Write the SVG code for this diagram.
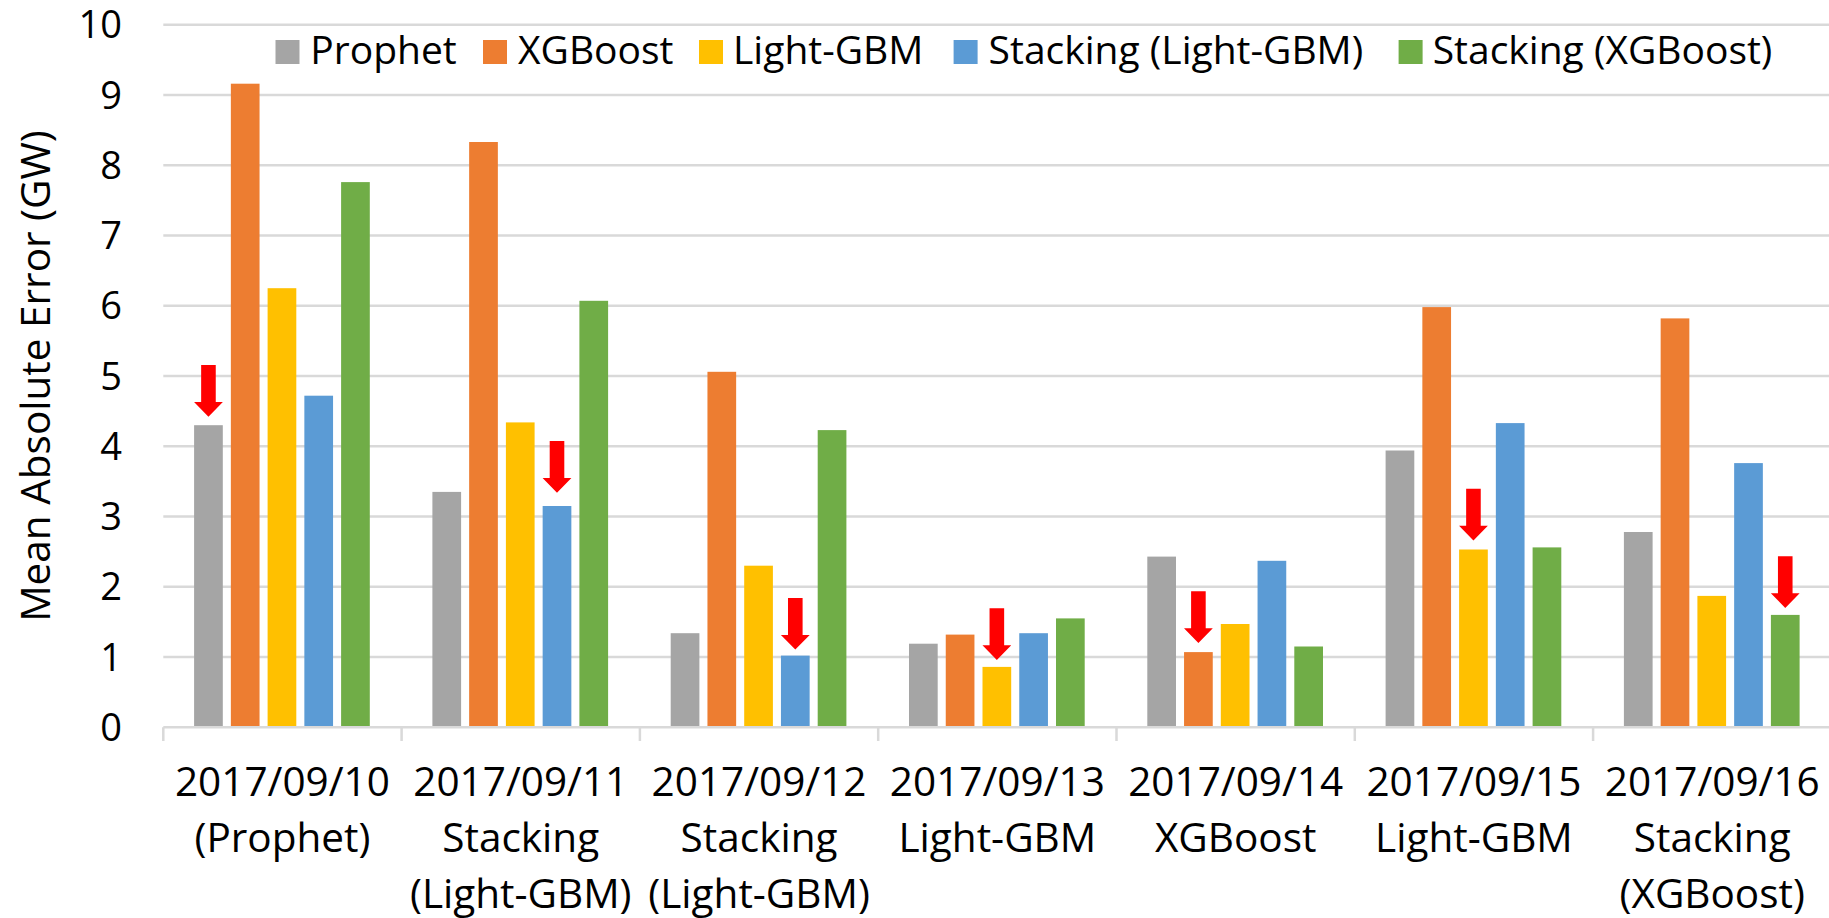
<svg xmlns="http://www.w3.org/2000/svg" xmlns:xlink="http://www.w3.org/1999/xlink" width="1829" height="918" viewBox="0 0 1829 918">
<style>
  text { font-family: "Open Sans", "Liberation Sans", sans-serif; fill: #000; }
  .grid { stroke: #d9d9d9; stroke-width: 2.5; fill: none; }
  .ytick { font-size: 38px; text-anchor: end; }
  .cat { font-size: 40.5px; text-anchor: middle; }
  .leg { font-size: 39px; }
  .title { font-size: 40.5px; text-anchor: middle; }
  .s0 { fill: #a5a5a5; }
  .s1 { fill: #ed7d31; }
  .s2 { fill: #ffc000; }
  .s3 { fill: #5b9bd5; }
  .s4 { fill: #70ad47; }
  .arrow { fill: #ff0000; }
</style>
<defs>
  <path id="arr" d="M-7.3,-51.7 H7.3 V-14.7 H14.4 L0,0 L-14.4,-14.7 H-7.3 Z"/>
</defs>
<rect x="0" y="0" width="1829" height="918" fill="#ffffff"/>

<g id="gridlines">
  <path class="grid" d="M163.3,24.7 H1829 M163.3,94.96 H1829 M163.3,165.2 H1829 M163.3,235.5 H1829 M163.3,305.7 H1829 M163.3,376 H1829 M163.3,446.3 H1829 M163.3,516.5 H1829 M163.3,586.8 H1829 M163.3,657 H1829"/>
</g>

<g id="y-axis">
  <text class="ytick" x="122" y="740.8">0</text>
  <text class="ytick" x="122" y="670.5">1</text>
  <text class="ytick" x="122" y="600.3">2</text>
  <text class="ytick" x="122" y="530">3</text>
  <text class="ytick" x="122" y="459.8">4</text>
  <text class="ytick" x="122" y="389.5">5</text>
  <text class="ytick" x="122" y="319.2">6</text>
  <text class="ytick" x="122" y="249">7</text>
  <text class="ytick" x="122" y="178.7">8</text>
  <text class="ytick" x="122" y="108.5">9</text>
  <text class="ytick" x="122" y="38.2">10</text>
  <text class="title" transform="translate(50,376) rotate(-90)">Mean Absolute Error (GW)</text>
</g>

<g id="bars">
  <g id="cat-0910">
    <rect class="s0" x="194.1" y="425.2" width="28.7" height="302.1"/>
    <rect class="s1" x="230.85" y="83.7" width="28.7" height="643.6"/>
    <rect class="s2" x="267.6" y="288.2" width="28.7" height="439.1"/>
    <rect class="s3" x="304.35" y="395.7" width="28.7" height="331.6"/>
    <rect class="s4" x="341.1" y="182.1" width="28.7" height="545.2"/>
  </g>
  <g id="cat-0911">
    <rect class="s0" x="432.4" y="491.9" width="28.7" height="235.4"/>
    <rect class="s1" x="469.15" y="142" width="28.7" height="585.3"/>
    <rect class="s2" x="505.9" y="422.4" width="28.7" height="304.9"/>
    <rect class="s3" x="542.65" y="506" width="28.7" height="221.3"/>
    <rect class="s4" x="579.4" y="300.8" width="28.7" height="426.5"/>
  </g>
  <g id="cat-0912">
    <rect class="s0" x="670.7" y="633.2" width="28.7" height="94.1"/>
    <rect class="s1" x="707.45" y="371.8" width="28.7" height="355.5"/>
    <rect class="s2" x="744.2" y="565.7" width="28.7" height="161.6"/>
    <rect class="s3" x="780.95" y="655.6" width="28.7" height="71.7"/>
    <rect class="s4" x="817.7" y="430.1" width="28.7" height="297.2"/>
  </g>
  <g id="cat-0913">
    <rect class="s0" x="909" y="643.7" width="28.7" height="83.6"/>
    <rect class="s1" x="945.75" y="634.6" width="28.7" height="92.7"/>
    <rect class="s2" x="982.5" y="666.9" width="28.7" height="60.4"/>
    <rect class="s3" x="1019.25" y="633.2" width="28.7" height="94.1"/>
    <rect class="s4" x="1056" y="618.4" width="28.7" height="108.9"/>
  </g>
  <g id="cat-0914">
    <rect class="s0" x="1147.3" y="556.6" width="28.7" height="170.7"/>
    <rect class="s1" x="1184.05" y="652.1" width="28.7" height="75.2"/>
    <rect class="s2" x="1220.8" y="624" width="28.7" height="103.3"/>
    <rect class="s3" x="1257.55" y="560.8" width="28.7" height="166.5"/>
    <rect class="s4" x="1294.3" y="646.5" width="28.7" height="80.8"/>
  </g>
  <g id="cat-0915">
    <rect class="s0" x="1385.6" y="450.5" width="28.7" height="276.8"/>
    <rect class="s1" x="1422.35" y="307.1" width="28.7" height="420.2"/>
    <rect class="s2" x="1459.1" y="549.5" width="28.7" height="177.8"/>
    <rect class="s3" x="1495.85" y="423.1" width="28.7" height="304.2"/>
    <rect class="s4" x="1532.6" y="547.4" width="28.7" height="179.9"/>
  </g>
  <g id="cat-0916">
    <rect class="s0" x="1623.9" y="532" width="28.7" height="195.3"/>
    <rect class="s1" x="1660.65" y="318.4" width="28.7" height="408.9"/>
    <rect class="s2" x="1697.4" y="595.9" width="28.7" height="131.4"/>
    <rect class="s3" x="1734.15" y="463.1" width="28.7" height="264.2"/>
    <rect class="s4" x="1770.9" y="614.9" width="28.7" height="112.4"/>
  </g>
</g>

<g id="x-axis">
  <path class="grid" d="M163.3,727.3 H1829 M163.3,727.3 V741 M401.6,727.3 V741 M639.9,727.3 V741 M878.2,727.3 V741 M1116.5,727.3 V741 M1354.8,727.3 V741 M1593.1,727.3 V741"/>
  <g id="label-0910">
    <text class="cat" x="282.45" y="796">2017/09/10</text>
    <text class="cat" x="282.45" y="852">(Prophet)</text>
  </g>
  <g id="label-0911">
    <text class="cat" x="520.75" y="796">2017/09/11</text>
    <text class="cat" x="520.75" y="852">Stacking</text>
    <text class="cat" x="520.75" y="908">(Light-GBM)</text>
  </g>
  <g id="label-0912">
    <text class="cat" x="759.05" y="796">2017/09/12</text>
    <text class="cat" x="759.05" y="852">Stacking</text>
    <text class="cat" x="759.05" y="908">(Light-GBM)</text>
  </g>
  <g id="label-0913">
    <text class="cat" x="997.35" y="796">2017/09/13</text>
    <text class="cat" x="997.35" y="852">Light-GBM</text>
  </g>
  <g id="label-0914">
    <text class="cat" x="1235.65" y="796">2017/09/14</text>
    <text class="cat" x="1235.65" y="852">XGBoost</text>
  </g>
  <g id="label-0915">
    <text class="cat" x="1473.95" y="796">2017/09/15</text>
    <text class="cat" x="1473.95" y="852">Light-GBM</text>
  </g>
  <g id="label-0916">
    <text class="cat" x="1712.25" y="796">2017/09/16</text>
    <text class="cat" x="1712.25" y="852">Stacking</text>
    <text class="cat" x="1712.25" y="908">(XGBoost)</text>
  </g>
</g>

<g id="arrows">
  <use xlink:href="#arr" href="#arr" class="arrow" transform="translate(208.45,416.7)"/>
  <use xlink:href="#arr" href="#arr" class="arrow" transform="translate(557,492.7)"/>
  <use xlink:href="#arr" href="#arr" class="arrow" transform="translate(795.3,649.6)"/>
  <use xlink:href="#arr" href="#arr" class="arrow" transform="translate(996.85,659.9)"/>
  <use xlink:href="#arr" href="#arr" class="arrow" transform="translate(1198.4,643)"/>
  <use xlink:href="#arr" href="#arr" class="arrow" transform="translate(1473.45,540.5)"/>
  <use xlink:href="#arr" href="#arr" class="arrow" transform="translate(1785.25,607.9)"/>
</g>

<g id="legend">
  <g id="legend-prophet">
    <rect class="s0" x="275.5" y="40" width="24" height="24"/>
    <text class="leg" x="310.3" y="64">Prophet</text>
  </g>
  <g id="legend-xgboost">
    <rect class="s1" x="483" y="40" width="24" height="24"/>
    <text class="leg" x="518" y="64">XGBoost</text>
  </g>
  <g id="legend-lightgbm">
    <rect class="s2" x="699" y="40" width="24" height="24"/>
    <text class="leg" x="733" y="64">Light-GBM</text>
  </g>
  <g id="legend-stacking-lightgbm">
    <rect class="s3" x="953.6" y="40" width="24" height="24"/>
    <text class="leg" x="988.6" y="64">Stacking (Light-GBM)</text>
  </g>
  <g id="legend-stacking-xgboost">
    <rect class="s4" x="1398.6" y="40" width="24" height="24"/>
    <text class="leg" x="1432.7" y="64">Stacking (XGBoost)</text>
  </g>
</g>
</svg>
